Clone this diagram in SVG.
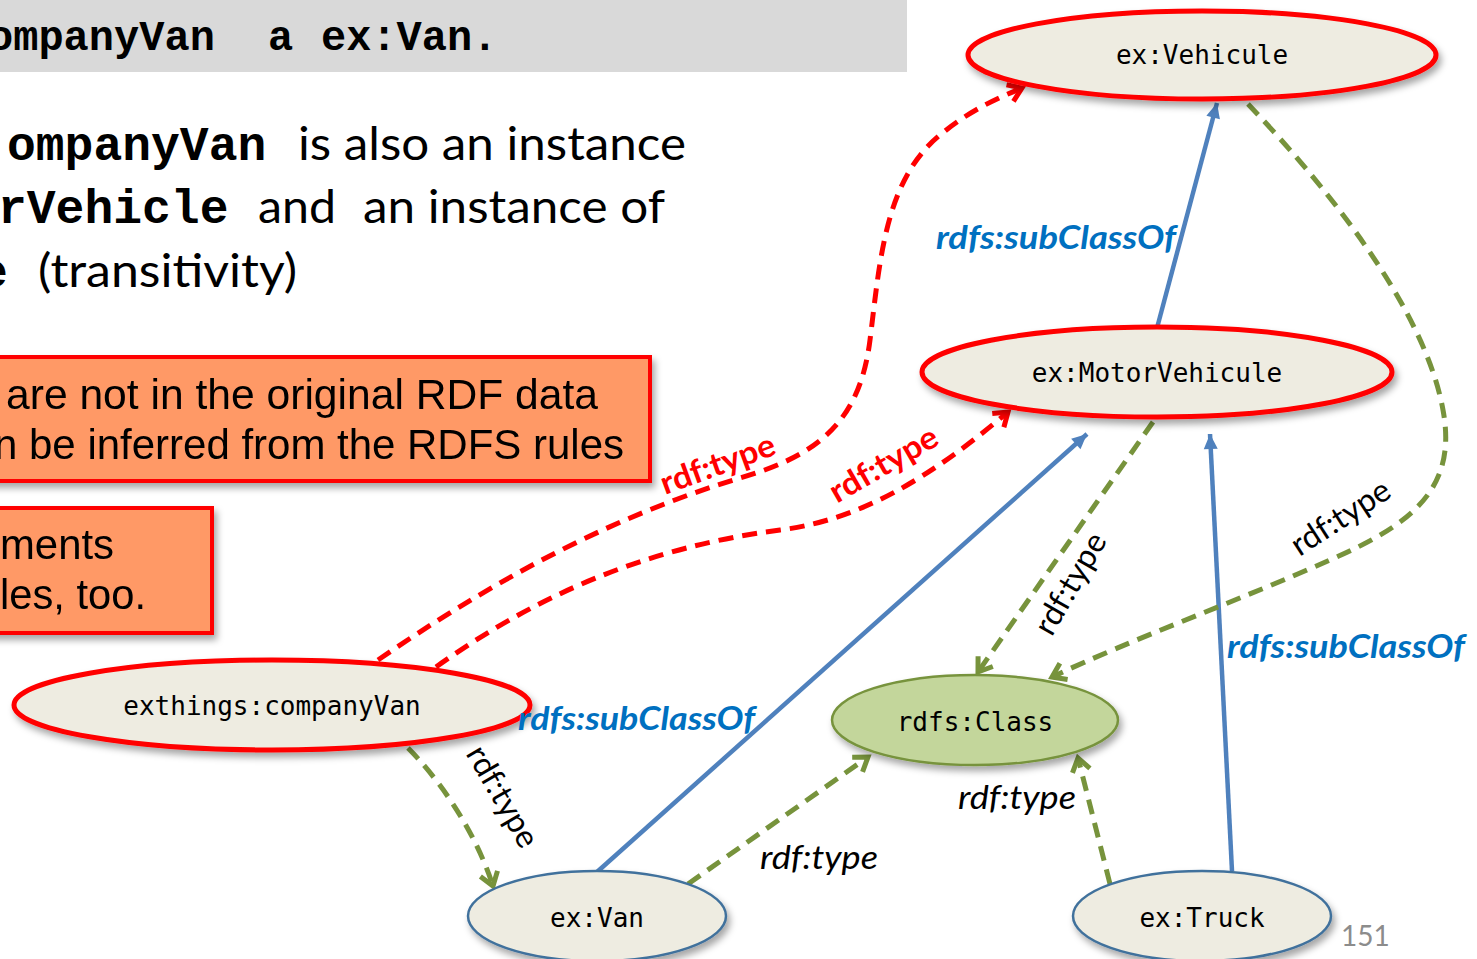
<svg xmlns="http://www.w3.org/2000/svg" width="1477" height="959" viewBox="0 0 1477 959">
<defs>
<filter id="sh" x="-20%" y="-30%" width="140%" height="170%">
<feDropShadow dx="3" dy="5" stdDeviation="3.5" flood-color="#000" flood-opacity="0.35"/>
</filter>
<marker id="arRed" viewBox="-16 -12 20 24" markerWidth="20" markerHeight="24" refX="0" refY="0" orient="auto" markerUnits="userSpaceOnUse" overflow="visible">
<path d="M-13,-9 L0,0 L-13,9" fill="none" stroke="#ff0000" stroke-width="5"/>
</marker>
<marker id="arGreen" viewBox="-16 -12 20 24" markerWidth="20" markerHeight="24" refX="0" refY="0" orient="auto" markerUnits="userSpaceOnUse" overflow="visible">
<path d="M-13,-9 L0,0 L-13,9" fill="none" stroke="#77933c" stroke-width="5"/>
</marker>
<marker id="arBlue" viewBox="-16 -10 18 20" markerWidth="18" markerHeight="20" refX="0" refY="0" orient="auto" markerUnits="userSpaceOnUse" overflow="visible">
<path d="M-15,-7 L0,0 L-15,7 Z" fill="#4f81bd"/>
</marker>
</defs>
<style>
.mono{font-family:"DejaVu Sans Mono","Liberation Mono",monospace;font-size:26px;fill:#000;}
.bmono{font-family:"Liberation Mono","DejaVu Sans Mono",monospace;font-weight:bold;fill:#000;}
.body{font-family:Lato,"Open Sans","Liberation Sans",sans-serif;font-size:46px;fill:#000;}
.note{font-family:"Liberation Sans",Arial,sans-serif;font-size:42px;fill:#000;}
.box{fill:#ff9966;stroke:#ff0000;stroke-width:4;}
.nodeR{fill:#eeece1;stroke:#ff0000;stroke-width:5;}
.nodeB{fill:#eeece1;stroke:#41719c;stroke-width:2.5;}
.nodeG{fill:#c3d69b;stroke:#77933c;stroke-width:2.5;}
.red{fill:none;stroke:#ff0000;stroke-width:5;stroke-dasharray:15 9;}
.green{fill:none;stroke:#77933c;stroke-width:5;stroke-dasharray:15 9;}
.blue{fill:none;stroke:#4f81bd;stroke-width:4.5;}
.sub{font-family:Lato,"Open Sans","Liberation Sans",sans-serif;font-size:32px;font-weight:bold;font-style:italic;fill:#0070c0;}
.lblR{font-family:Lato,"Open Sans","Liberation Sans",sans-serif;font-size:32px;font-weight:bold;fill:#ff0000;}
.lbl{font-family:Lato,"Open Sans","Liberation Sans",sans-serif;font-size:32px;fill:#000;}
.lblI{font-family:Lato,"Open Sans","Liberation Sans",sans-serif;font-size:32px;font-style:italic;fill:#000;}
</style>

<g id="header">
<rect x="-5" y="0" width="912" height="72" fill="#d9d9d9"/>
<text class="bmono" font-size="42" y="50"><tspan x="-12">ompanyVan</tspan><tspan x="268">a</tspan><tspan x="321">ex:Van.</tspan></text>
</g>

<g id="body-text">
<text class="bmono" font-size="48" x="7" y="160">ompanyVan</text>
<text class="body" x="298" y="160" textLength="388" lengthAdjust="spacingAndGlyphs">is also an instance</text>
<text class="bmono" font-size="48" x="-2" y="223">rVehicle</text>
<text class="body" x="258" y="223" textLength="78" lengthAdjust="spacingAndGlyphs">and</text>
<text class="body" x="363" y="223" textLength="302" lengthAdjust="spacingAndGlyphs">an instance of</text>
<text class="bmono" font-size="48" x="-21" y="287">e</text>
<text class="body" x="38" y="287" textLength="259" lengthAdjust="spacingAndGlyphs">(transitivity)</text>
</g>

<g id="note1" filter="url(#sh)">
<rect class="box" x="-10" y="357" width="660" height="124"/>
<text class="note" x="6" y="409" textLength="592" lengthAdjust="spacingAndGlyphs">are not in the original RDF data</text>
<text class="note" x="-6" y="459" textLength="630" lengthAdjust="spacingAndGlyphs">n be inferred from the RDFS rules</text>
</g>

<g id="note2" filter="url(#sh)">
<rect class="box" x="-10" y="508" width="222" height="125"/>
<text class="note" x="0" y="559" textLength="114" lengthAdjust="spacingAndGlyphs">ments</text>
<text class="note" x="0" y="609" textLength="146" lengthAdjust="spacingAndGlyphs">les, too.</text>
</g>

<g id="connectors">
<path class="red" d="M378,660 C480,590 600,520 740,478 C820,455 860,420 870,340 C880,260 885,180 940,135 C970,110 998,98 1022,88" marker-end="url(#arRed)"/>
<path class="red" d="M436,667 C530,600 640,548 780,530 C860,520 930,478 1008,412" marker-end="url(#arRed)"/>
<path class="blue" d="M597,872 L1087,434" marker-end="url(#arBlue)"/>
<path class="blue" d="M1157,328 L1217,103" marker-end="url(#arBlue)"/>
<path class="blue" d="M1232,871 L1210,434" marker-end="url(#arBlue)"/>
<path class="green" d="M408,748 C432,772 472,822 493,886" marker-end="url(#arGreen)"/>
<path class="green" d="M688,884 L868,757" marker-end="url(#arGreen)"/>
<path class="green" d="M1110,884 L1078,758" marker-end="url(#arGreen)"/>
<path class="green" d="M1153,422 L978,672" marker-end="url(#arGreen)"/>
<path class="green" d="M1248,104 C1330,190 1425,310 1443,410 C1458,490 1410,525 1330,560 C1240,600 1130,640 1052,677" marker-end="url(#arGreen)"/>
</g>

<g id="node-vehicule">
<ellipse class="nodeR" cx="1202" cy="55" rx="234" ry="44" filter="url(#sh)"/>
<text class="mono" x="1202" y="64" text-anchor="middle">ex:Vehicule</text>
</g>
<g id="node-motorvehicule">
<ellipse class="nodeR" cx="1157" cy="372" rx="235" ry="45" filter="url(#sh)"/>
<text class="mono" x="1157" y="382" text-anchor="middle">ex:MotorVehicule</text>
</g>
<g id="node-companyvan">
<ellipse class="nodeR" cx="272" cy="705" rx="258" ry="45" filter="url(#sh)"/>
<text class="mono" x="272" y="715" text-anchor="middle">exthings:companyVan</text>
</g>
<g id="node-class">
<ellipse class="nodeG" cx="975" cy="720" rx="143" ry="45" filter="url(#sh)"/>
<text class="mono" x="975" y="731" text-anchor="middle">rdfs:Class</text>
</g>
<g id="node-van">
<ellipse class="nodeB" cx="597" cy="916" rx="129" ry="45" filter="url(#sh)"/>
<text class="mono" x="597" y="927" text-anchor="middle">ex:Van</text>
</g>
<g id="node-truck">
<ellipse class="nodeB" cx="1202" cy="916" rx="129" ry="45" filter="url(#sh)"/>
<text class="mono" x="1202" y="927" text-anchor="middle">ex:Truck</text>
</g>

<g id="labels">
<text class="sub" x="936" y="249" textLength="240" lengthAdjust="spacingAndGlyphs">rdfs:subClassOf</text>
<text class="sub" x="518" y="730" textLength="237" lengthAdjust="spacingAndGlyphs">rdfs:subClassOf</text>
<text class="sub" x="1227" y="658" textLength="238" lengthAdjust="spacingAndGlyphs">rdfs:subClassOf</text>
<text class="lblR" text-anchor="middle" transform="translate(718,465) rotate(-20)" y="10" textLength="120" lengthAdjust="spacingAndGlyphs">rdf:type</text>
<text class="lblR" text-anchor="middle" transform="translate(884,465) rotate(-30)" y="10" textLength="120" lengthAdjust="spacingAndGlyphs">rdf:type</text>
<text class="lbl" text-anchor="middle" transform="translate(502,797) rotate(60)" y="10" textLength="112" lengthAdjust="spacingAndGlyphs">rdf:type</text>
<text class="lbl" text-anchor="middle" transform="translate(1071,584) rotate(-60)" y="10" textLength="112" lengthAdjust="spacingAndGlyphs">rdf:type</text>
<text class="lbl" text-anchor="middle" transform="translate(1341,518) rotate(-33)" y="10" textLength="112" lengthAdjust="spacingAndGlyphs">rdf:type</text>
<text class="lblI" x="760" y="869" textLength="118" lengthAdjust="spacingAndGlyphs">rdf:type</text>
<text class="lblI" x="958" y="809" textLength="118" lengthAdjust="spacingAndGlyphs">rdf:type</text>
<text x="1341" y="946" font-family="Lato,'Open Sans','Liberation Sans',sans-serif" font-size="28" fill="#8c8c8c">151</text>
</g>
</svg>
